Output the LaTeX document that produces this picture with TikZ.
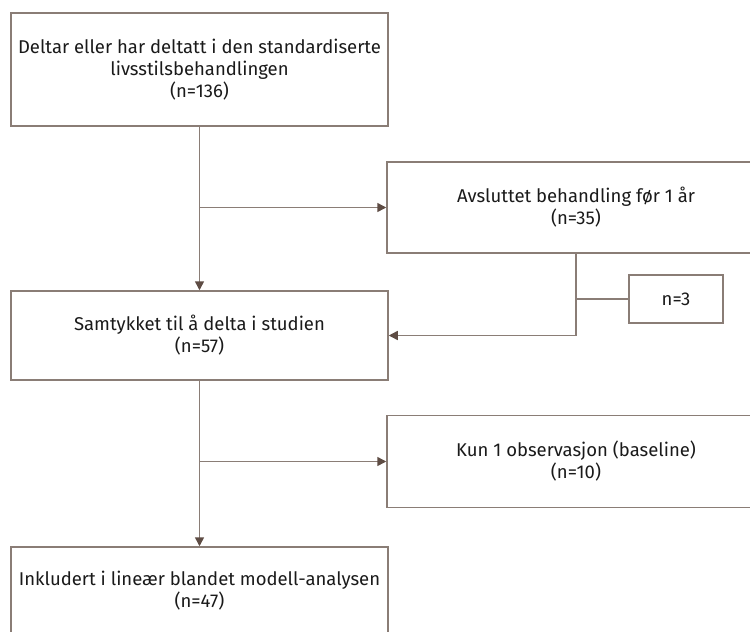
\documentclass[tikz,border=0pt]{standalone}
\usepackage{fontspec}
\setmainfont{Fira Sans}
\usetikzlibrary{arrows.meta}
\definecolor{linec}{HTML}{8A7D76}
\definecolor{tipc}{HTML}{5E4C44}
\definecolor{txtc}{HTML}{1A1A1A}
\begin{document}
\begin{tikzpicture}[x=1pt,y=-1pt,
  box/.style={draw=linec,line width=1.5pt,fill=white,align=center,text=txtc,
    font=\fontsize{18.5}{22}\selectfont,inner sep=0pt},
  conn/.style={draw=linec,line width=1.5pt},
  arr/.style={conn,-{Triangle[length=9pt,width=9pt,fill=tipc,color=tipc]}}]
\useasboundingbox (0,0) rectangle (750,632);
\clip (0,0) rectangle (750,632);
\fill[white] (0,0) rectangle (750,632);
\node[box,minimum width=377pt,minimum height=113pt] (b1) at (199.5,69.5)
  {Deltar eller har deltatt i den standardiserte\\livsstilsbehandlingen\\(n=136)};
\node[box,minimum width=378pt,minimum height=91pt] (b2) at (576,207.5)
  {Avsluttet behandling før 1 år\\(n=35)};
\node[box,minimum width=377pt,minimum height=89pt] (b3) at (199.5,335.5)
  {Samtykket til å delta i studien\\(n=57)};
\node[box,minimum width=94pt,minimum height=48pt] (n3) at (676,299) {n=3};
\node[box,minimum width=378pt,minimum height=92pt] (b4) at (576,461.5)
  {Kun 1 observasjon (baseline)\\(n=10)};
\node[box,minimum width=377pt,minimum height=88pt] (b5) at (199.5,591)
  {Inkludert i lineær blandet modell-analysen\\(n=47)};
\draw[arr] (b1.south) -- (b3.north);
\draw[arr] (b2.west -| b1.south) -- (b2.west);
\draw[arr] (b2.south) |- (b3.east);
\draw[conn] (n3.west -| b2.south) -- (n3.west);
\draw[arr] (b3.south) -- (b5.north);
\draw[arr] (b4.west -| b3.south) -- (b4.west);
\end{tikzpicture}
\end{document}
